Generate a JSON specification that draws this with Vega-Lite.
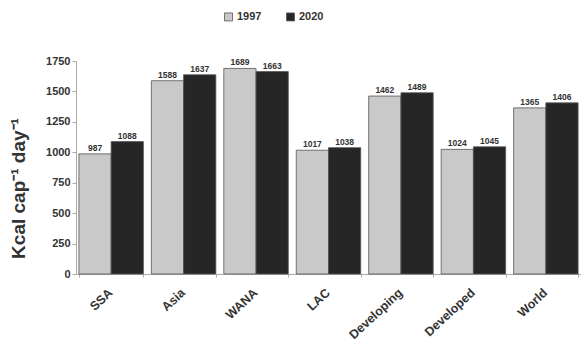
{
  "$schema": "https://vega.github.io/schema/vega-lite/v6.json",
  "autosize": {"type": "none"},
  "width": 505,
  "height": 213,
  "padding": {"left": 76, "top": 61, "right": 0, "bottom": 78},
  "background": "white",
  "config": {
    "font": "Liberation Sans",
    "view": {"stroke": null}
  },
  "data": {
    "values": [
      {"region": "SSA", "year": "1997", "kcal": 987},
      {"region": "SSA", "year": "2020", "kcal": 1088},
      {"region": "Asia", "year": "1997", "kcal": 1588},
      {"region": "Asia", "year": "2020", "kcal": 1637},
      {"region": "WANA", "year": "1997", "kcal": 1689},
      {"region": "WANA", "year": "2020", "kcal": 1663},
      {"region": "LAC", "year": "1997", "kcal": 1017},
      {"region": "LAC", "year": "2020", "kcal": 1038},
      {"region": "Developing", "year": "1997", "kcal": 1462},
      {"region": "Developing", "year": "2020", "kcal": 1489},
      {"region": "Developed", "year": "1997", "kcal": 1024},
      {"region": "Developed", "year": "2020", "kcal": 1045},
      {"region": "World", "year": "1997", "kcal": 1365},
      {"region": "World", "year": "2020", "kcal": 1406}
    ]
  },
  "encoding": {
    "x": {
      "field": "region",
      "type": "nominal",
      "sort": null,
      "scale": {"paddingInner": 0.11, "paddingOuter": 0.04},
      "axis": {
        "title": null,
        "labelAngle": -43,
        "labelAlign": "right",
        "labelBaseline": "top",
        "labelFont": "Liberation Sans",
        "labelFontWeight": "bold",
        "labelFontSize": 12.5,
        "labelColor": "#333",
        "labelPadding": 9,
        "labelOffset": -5,
        "tickBand": "extent",
        "tickSize": 3,
        "tickColor": "#aaa",
        "domainColor": "#aaa"
      }
    },
    "xOffset": {"field": "year", "type": "nominal", "scale": {"paddingInner": 0}},
    "y": {
      "field": "kcal",
      "type": "quantitative",
      "scale": {"domain": [0, 1750], "nice": false},
      "axis": {
        "values": [0, 250, 500, 750, 1000, 1250, 1500, 1750],
        "format": "d",
        "grid": false,
        "title": "Kcal cap⁻¹ day⁻¹",
        "titleFont": "Liberation Sans",
        "titleFontSize": 19,
        "titleFontWeight": "bold",
        "titleColor": "#333",
        "titleX": -58,
        "titleY": 127,
        "titleAngle": -90,
        "titleAlign": "center",
        "titleBaseline": "middle",
        "labelFont": "Liberation Sans",
        "labelFontWeight": "bold",
        "labelFontSize": 11,
        "labelColor": "#333",
        "tickSize": 4,
        "tickColor": "#aaa",
        "domainColor": "#aaa"
      }
    }
  },
  "layer": [
    {
      "mark": {"type": "bar", "stroke": "#555", "strokeWidth": 0.8},
      "encoding": {
        "fill": {
          "field": "year",
          "type": "nominal",
          "scale": {"domain": ["1997", "2020"], "range": ["#c9c9c9", "#262626"]},
          "legend": {
            "title": null,
            "orient": "none",
            "legendX": 147,
            "legendY": -50,
            "direction": "horizontal",
            "symbolType": "square",
            "symbolSize": 64,
            "symbolStrokeColor": "#555",
            "symbolStrokeWidth": 0.8,
            "labelFont": "Liberation Sans",
            "labelFontWeight": "bold",
            "labelFontSize": 11,
            "labelColor": "#333",
            "columnPadding": 22,
            "labelOffset": 3
          }
        }
      }
    },
    {
      "mark": {"type": "text", "dy": -6, "fontSize": 8.5, "fontWeight": "bold", "font": "Liberation Sans", "color": "#333"},
      "encoding": {
        "text": {"field": "kcal", "type": "quantitative", "format": "d"}
      }
    }
  ]
}
